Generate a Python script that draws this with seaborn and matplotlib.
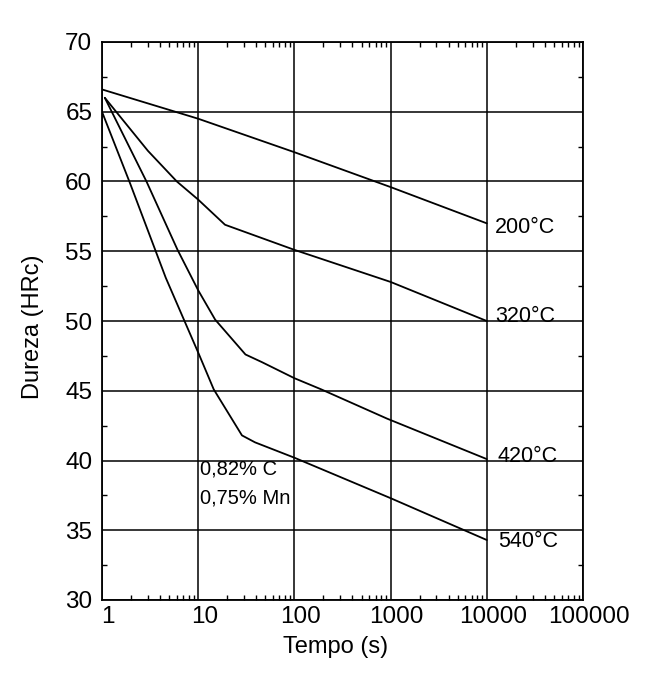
import numpy as np
import pandas as pd
import seaborn as sns
import matplotlib
matplotlib.use("Agg")
import matplotlib.pyplot as plt
from matplotlib.ticker import LogLocator, FixedLocator, NullFormatter, FixedFormatter
import matplotlib.transforms as mtransforms

# ---------------- data ----------------
t_200 = [1.0, 10, 100, 1000, 10000]
h_200 = [66.6, 64.5, 62.1, 59.6, 57.0]

t_320 = [1.07, 3.0, 6.0, 10, 19, 100, 1000, 10000]
h_320 = [66.0, 62.2, 60.0, 58.7, 56.9, 55.1, 52.8, 50.0]

t_420 = [1.07, 2.9, 6.1, 10, 15, 31, 46, 100, 190, 920, 10000]
h_420 = [66.0, 60.0, 55.1, 52.2, 50.1, 47.6, 47.05, 45.9, 45.1, 43.0, 40.1]

t_540 = [1.0, 1.95, 4.6, 7.1, 10.2, 14.5, 28.5, 39, 100, 1000, 10000]
h_540 = [65.0, 59.9, 53.1, 50.1, 47.6, 45.1, 41.8, 41.3, 40.2, 37.3, 34.3]

series_names = ["200°C", "320°C", "420°C", "540°C"]
x_ticks = [1, 10, 100, 1000, 10000, 100000]
x_ticklabels = ["1", "10", "100", "1000", "10000", "100000"]
y_ticks = [30, 35, 40, 45, 50, 55, 60, 65, 70]
note_lines = ["0,82% C", "0,75% Mn"]
note_y = [39.4, 37.3]

# build long-form table
frames = []
for name, t, h in zip(series_names, [t_200, t_320, t_420, t_540],
                      [h_200, h_320, h_420, h_540]):
    frames.append(pd.DataFrame({"Tempo": t, "Dureza": h, "serie": name}))
df = pd.concat(frames, ignore_index=True)

# ---------------- style ----------------
sns.set_style("white")
plt.rcParams["font.family"] = ["Liberation Sans", "DejaVu Sans"]
plt.rcParams["text.color"] = "black"
plt.rcParams["axes.labelcolor"] = "black"
plt.rcParams["xtick.color"] = "black"
plt.rcParams["ytick.color"] = "black"

fig = plt.figure(figsize=(6.53, 6.76), dpi=100)
ax = fig.add_axes([102 / 653, 1 - 600 / 676, (583 - 102) / 653, (600 - 42) / 676])

sns.lineplot(data=df, x="Tempo", y="Dureza", hue="serie",
             palette={n: "black" for n in series_names},
             estimator=None, sort=False, legend=False, lw=1.3, ax=ax)

ax.set_xscale("log")
ax.set_xlim(1, 100000)
ax.set_ylim(30, 70)

# grid at major ticks
ax.xaxis.set_major_locator(FixedLocator(x_ticks))
ax.xaxis.set_major_formatter(FixedFormatter(x_ticklabels))
ax.xaxis.set_minor_locator(LogLocator(base=10, subs=np.arange(2, 10)))
ax.xaxis.set_minor_formatter(NullFormatter())
ax.set_yticks(y_ticks)
ax.set_yticks(np.arange(32.5, 70, 5), minor=True)
ax.grid(True, which="major", color="black", lw=1.1)
ax.set_axisbelow(True)

for s in ax.spines.values():
    s.set_color("black")
    s.set_linewidth(1.3)

ax.tick_params(axis="both", which="major", length=0, labelsize=17.5, colors="black")
ax.tick_params(axis="x", which="major", pad=4)
ax.tick_params(axis="y", which="major", pad=7)
ax.tick_params(axis="both", which="minor", direction="in", length=3.5, width=1.0,
               top=True, right=True, bottom=True, left=True, colors="black")

# shift x tick labels slightly right as in the reference
shift = mtransforms.ScaledTranslation(6 / 100, 0, fig.dpi_scale_trans)
for lab in ax.get_xticklabels():
    lab.set_transform(lab.get_transform() + shift)

ax.set_xlabel("Tempo (s)", fontsize=17, labelpad=6, color="black")
ax.set_ylabel("Dureza (HRc)", fontsize=17, labelpad=15, color="black")
ax.xaxis.label.set_x(0.486)
ax.yaxis.label.set_y(0.489)

# curve labels at end of each curve
label_dy = [-3, 3, 2, -1]
label_dx = [6, 6, 8, 8]
for name, h, dx, dy in zip(series_names, [h_200, h_320, h_420, h_540], label_dx, label_dy):
    ax.annotate(name, xy=(10000, h[-1]), xytext=(dx, dy), textcoords="offset points",
                ha="left", va="center", fontsize=15.5, color="black")

for txt, yy in zip(note_lines, note_y):
    ax.text(10.4, yy, txt, ha="left", va="center", fontsize=14.5, color="black")

fig.savefig("out.png", dpi=100)
